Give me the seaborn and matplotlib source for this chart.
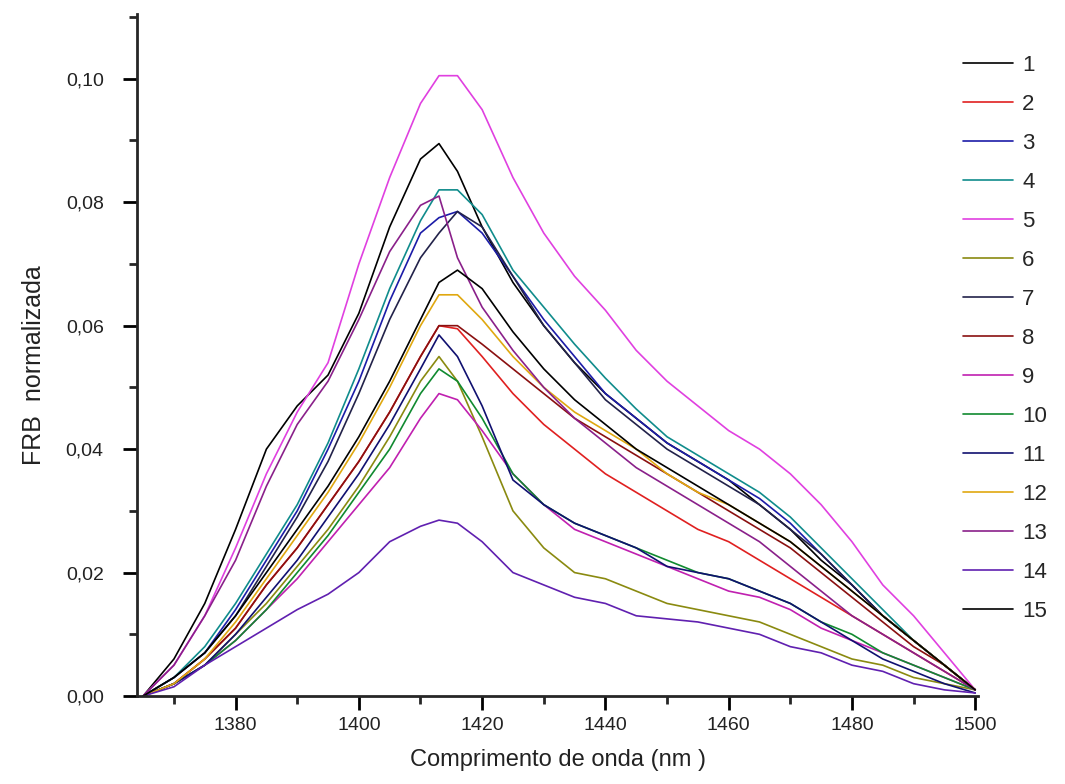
import numpy as np
import pandas as pd
import matplotlib
matplotlib.use("Agg")
import matplotlib.pyplot as plt
from matplotlib.ticker import MultipleLocator, FuncFormatter
import seaborn as sns

# ---------------- data ----------------
wavelength = [1365, 1370, 1375, 1380, 1385, 1390, 1395, 1400, 1405, 1410, 1413, 1416,
              1420, 1425, 1430, 1435, 1440, 1445, 1450, 1455, 1460, 1465, 1470, 1475,
              1480, 1485, 1490, 1495, 1500]

s1 = [0, .006, .015, .027, .040, .047, .052, .062, .076, .087, .0895, .085, .076, .067, .060,
      .054, .049, .045, .041, .038, .035, .031, .027, .022, .018, .013, .009, .005, .001]
s2 = [0, .002, .006, .011, .018, .024, .031, .038, .046, .055, .060, .0595, .055, .049, .044,
      .040, .036, .033, .030, .027, .025, .022, .019, .016, .013, .010, .007, .004, .001]
s3 = [0, .003, .007, .014, .022, .030, .040, .051, .064, .075, .0775, .0785, .075, .068, .061,
      .055, .049, .045, .041, .038, .035, .032, .028, .023, .018, .013, .009, .005, .001]
s4 = [0, .003, .008, .015, .023, .031, .041, .053, .066, .077, .082, .082, .078, .069, .063,
      .057, .0515, .0465, .042, .039, .036, .033, .029, .024, .019, .014, .009, .005, .001]
s5 = [0, .005, .013, .024, .036, .046, .054, .070, .084, .096, .1005, .1005, .095, .084, .075,
      .068, .0625, .056, .051, .047, .043, .040, .036, .031, .025, .018, .013, .007, .001]
s6 = [0, .002, .005, .010, .015, .021, .027, .034, .042, .051, .055, .051, .042, .030, .024,
      .020, .019, .017, .015, .014, .013, .012, .010, .008, .006, .005, .003, .002, .001]
s7 = [0, .003, .007, .013, .021, .029, .038, .049, .061, .071, .075, .0785, .076, .068, .060,
      .054, .048, .044, .040, .037, .034, .031, .027, .023, .018, .013, .009, .005, .001]
s8 = [0, .002, .006, .011, .018, .024, .031, .038, .046, .055, .060, .060, .057, .053, .049,
      .045, .042, .039, .036, .033, .030, .027, .024, .020, .016, .012, .008, .005, .001]
s9 = [0, .002, .005, .009, .014, .019, .025, .031, .037, .045, .049, .048, .043, .036, .031,
      .027, .025, .023, .021, .019, .017, .016, .014, .011, .009, .007, .005, .003, .001]
s10 = [0, .002, .005, .009, .014, .020, .026, .033, .040, .049, .053, .051, .045, .036, .031,
       .028, .026, .024, .022, .020, .019, .017, .015, .012, .010, .007, .005, .003, .001]
s11 = [0, .002, .005, .010, .016, .022, .029, .036, .044, .053, .0585, .055, .047, .035, .031,
       .028, .026, .024, .021, .020, .019, .017, .015, .012, .009, .006, .004, .002, .0005]
s12 = [0, .002, .006, .012, .019, .026, .033, .041, .050, .060, .065, .065, .061, .055, .050,
       .046, .043, .040, .036, .033, .031, .028, .025, .021, .017, .013, .009, .005, .001]
s13 = [0, .005, .013, .022, .034, .044, .051, .061, .072, .0795, .081, .071, .063, .056, .050,
       .045, .041, .037, .034, .031, .028, .025, .021, .017, .013, .010, .007, .004, .001]
s14 = [0, .0015, .005, .008, .011, .014, .0165, .020, .025, .0275, .0285, .028, .025, .020, .018,
       .016, .015, .013, .0125, .012, .011, .010, .008, .007, .005, .004, .002, .001, .0005]
s15 = [0, .003, .007, .013, .020, .027, .034, .042, .051, .061, .067, .069, .066, .059, .053,
       .048, .044, .040, .037, .034, .031, .028, .025, .021, .017, .013, .009, .005, .001]

series_names = [str(i) for i in range(1, 16)]
series_values = [s1, s2, s3, s4, s5, s6, s7, s8, s9, s10, s11, s12, s13, s14, s15]
series_colors = ["#000000", "#e02020", "#1c1ca8", "#108c8c", "#e040e0", "#8a8a10",
                 "#22224a", "#8a1010", "#c020b0", "#108a30", "#101070", "#e0a810",
                 "#8a208a", "#6020b0", "#000000"]

x_ticks = [1380, 1400, 1420, 1440, 1460, 1480, 1500]

df = pd.DataFrame({
    "wl": np.tile(wavelength, len(series_names)),
    "frb": np.concatenate(series_values),
    "curva": np.repeat(series_names, len(wavelength)),
})

# ---------------- plot ----------------
sns.set_style("ticks")
plt.rcParams["font.family"] = ["Liberation Sans", "DejaVu Sans"]

fig = plt.figure(figsize=(10.65, 7.84), dpi=100)
ax = fig.add_axes([0.1286, 0.1122, 0.790, 0.870])

palette = dict(zip(series_names, series_colors))
sns.lineplot(data=df, x="wl", y="frb", hue="curva", hue_order=series_names,
             palette=palette, linewidth=1.2, ax=ax, estimator=None, sort=False)

ax.set_xlim(1364, 1500.5)
ax.set_ylim(0, 0.1105)
ax.set_xticks(x_ticks)
ax.xaxis.set_minor_locator(MultipleLocator(10))
ax.yaxis.set_major_locator(MultipleLocator(0.02))
ax.yaxis.set_minor_locator(MultipleLocator(0.01))
ax.yaxis.set_major_formatter(FuncFormatter(lambda v, p: f"{v:.2f}".replace(".", ",")))

for side in ("top", "right"):
    ax.spines[side].set_visible(False)
for side in ("left", "bottom"):
    ax.spines[side].set_linewidth(2)
ax.tick_params(which="major", direction="out", length=10, width=2, labelsize=14,
               colors="black", labelcolor="#222222")
ax.tick_params(which="minor", direction="out", length=6, width=2)
ax.tick_params(axis="x", which="major", pad=5)
ax.tick_params(axis="y", which="major", pad=14)

ax.set_xlabel("Comprimento de onda (nm )", fontsize=17, color="#222222")
ax.set_ylabel("FRB  normalizada", fontsize=18, color="#222222")
ax.xaxis.set_label_coords(0.5, -0.078)
ax.yaxis.set_label_coords(-0.108, 0.485)

handles, labels = ax.get_legend_handles_labels()
ax.legend(handles, labels, loc="upper left", bbox_to_anchor=(0.982, 0.940),
          frameon=False, fontsize=16, handlelength=2.25, handletextpad=0.4,
          labelspacing=0.81, borderaxespad=0, borderpad=0)

fig.savefig("out.png", dpi=100, facecolor="white")
